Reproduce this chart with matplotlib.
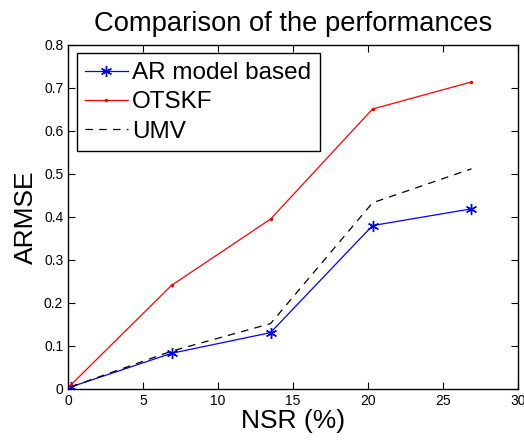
import numpy as np
import matplotlib
matplotlib.use('Agg')
import matplotlib.pyplot as plt

plt.rcParams['font.family'] = ['Liberation Sans', 'DejaVu Sans']

nsr = [0.2, 6.9, 13.5, 20.3, 26.9]
ar_model = [0.005, 0.083, 0.131, 0.380, 0.419]
otskf = [0.010, 0.241, 0.395, 0.651, 0.714]
umv = [0.005, 0.088, 0.152, 0.433, 0.512]

fig = plt.figure(figsize=(5.24, 4.41), dpi=100)
ax = fig.add_axes([0.13, 0.118, 0.8585, 0.78])

ax.plot(nsr, ar_model, color='blue', marker=(6, 2, 0), markersize=8, mew=1.0,
        lw=0.9, label='AR model based')
ax.plot(nsr, otskf, color='red', marker='.', markersize=3, lw=0.9, label='OTSKF')
ax.plot(nsr, umv, color='black', ls=(0, (6, 5)), lw=0.9, label='UMV')

ax.set_xlim(0, 30)
ax.set_ylim(0, 0.8)
ax.set_xticks([0, 5, 10, 15, 20, 25, 30])
ax.set_yticks(np.arange(0, 0.81, 0.1))
ax.set_yticklabels(['0', '0.1', '0.2', '0.3', '0.4', '0.5', '0.6', '0.7', '0.8'])
ax.tick_params(direction='in', top=True, right=True, labelsize=10, length=5, width=0.8)
for s in ax.spines.values():
    s.set_linewidth(1.0)

ax.set_title('Comparison of the performances', fontsize=19.7, pad=10)
ax.set_xlabel('NSR (%)', fontsize=19, labelpad=1)
ax.set_ylabel('ARMSE', fontsize=19, labelpad=4)

leg = ax.legend(loc='upper left', fontsize=17.5, fancybox=False, framealpha=1,
                edgecolor='black', borderpad=0.35, labelspacing=0.3, numpoints=1,
                handlelength=1.75, handletextpad=0.18, borderaxespad=0.35)
leg.get_frame().set_linewidth(1.0)

fig.savefig('out.png', dpi=100)
